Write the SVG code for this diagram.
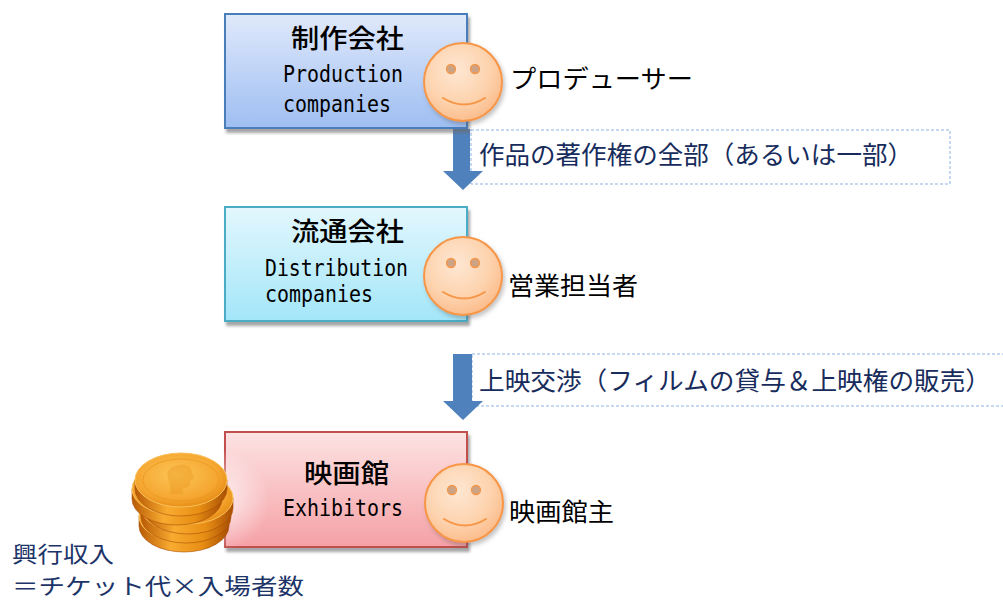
<svg xmlns="http://www.w3.org/2000/svg" width="1003" height="601" viewBox="0 0 1003 601">
  <defs>
    <linearGradient id="gradBlue" x1="0" y1="0" x2="0" y2="1">
      <stop offset="0" stop-color="#e0e9fb"/>
      <stop offset="1" stop-color="#9ebef2"/>
    </linearGradient>
    <linearGradient id="gradCyan" x1="0" y1="0" x2="0" y2="1">
      <stop offset="0" stop-color="#e3f7fd"/>
      <stop offset="1" stop-color="#a3e6f9"/>
    </linearGradient>
    <linearGradient id="gradPink" x1="0" y1="0" x2="0" y2="1">
      <stop offset="0" stop-color="#fde3e3"/>
      <stop offset="1" stop-color="#f5a1a6"/>
    </linearGradient>
    <radialGradient id="gradFace" cx="0.42" cy="0.35" r="0.7">
      <stop offset="0" stop-color="#fee7d3"/>
      <stop offset="0.6" stop-color="#fdd3ae"/>
      <stop offset="1" stop-color="#fbb987"/>
    </radialGradient>
    <linearGradient id="gradCoinSide" x1="0" y1="0" x2="1" y2="0">
      <stop offset="0" stop-color="#b85a06"/>
      <stop offset="0.35" stop-color="#f8ab30"/>
      <stop offset="0.7" stop-color="#e88e14"/>
      <stop offset="1" stop-color="#a84f04"/>
    </linearGradient>
    <radialGradient id="gradCoinFace" cx="0.45" cy="0.4" r="0.65">
      <stop offset="0" stop-color="#fcc556"/>
      <stop offset="0.7" stop-color="#f5a630"/>
      <stop offset="1" stop-color="#e3870f"/>
    </radialGradient>
    <radialGradient id="gradGlow" cx="0.5" cy="0.5" r="0.5">
      <stop offset="0" stop-color="#ffffff" stop-opacity="0.8"/>
      <stop offset="1" stop-color="#ffffff" stop-opacity="0"/>
    </radialGradient>
    <filter id="boxShadow" x="-10%" y="-10%" width="125%" height="130%">
      <feDropShadow dx="2" dy="4" stdDeviation="1.5" flood-color="#6b6b6b" flood-opacity="0.6"/>
    </filter>
    <filter id="faceShadow" x="-20%" y="-20%" width="150%" height="150%">
      <feDropShadow dx="2" dy="3" stdDeviation="2" flood-color="#555" flood-opacity="0.35"/>
    </filter>
    <g id="smiley">
      <circle cx="0" cy="0" r="39" fill="url(#gradFace)" stroke="#f79646" stroke-width="2" filter="url(#faceShadow)"/>
      <circle cx="-12" cy="-13" r="4.5" fill="#cda386" stroke="#f79646" stroke-width="1.3"/>
      <circle cx="12" cy="-13" r="4.5" fill="#cda386" stroke="#f79646" stroke-width="1.3"/>
      <path d="M -20 16 Q 1 29 22 16" fill="none" stroke="#f79646" stroke-width="2" stroke-linecap="round"/>
    </g>
  </defs>
  <style>
    .title { font-family: "Noto Sans CJK JP", "Noto Sans CJK SC", sans-serif; font-size: 26px; font-weight: 500; fill: #000; }
    .eng { font-family: "DejaVu Sans Mono", "Liberation Mono", monospace; font-size: 23px; fill: #000; }
    .role { font-family: "Noto Sans CJK JP", "Noto Sans CJK SC", sans-serif; font-size: 25px; fill: #000; }
    .flow { font-family: "Noto Sans CJK JP", "Noto Sans CJK SC", sans-serif; font-size: 25px; fill: #172c5c; }
    .revenue { font-family: "Noto Sans CJK JP", "Noto Sans CJK SC", sans-serif; font-size: 22px; fill: #1c3468; }
    .arrow { fill: #4f81bd; }
    .labelBox { fill: #ffffff; stroke: #8db3e2; stroke-width: 1; stroke-dasharray: 3 2; }
    .coinSide { fill: url(#gradCoinSide); stroke: #a94f05; stroke-width: 0.6; }
    .coinFace { fill: url(#gradCoinFace); stroke: #f9c15a; stroke-width: 1; }
  </style>

  <rect width="1003" height="601" fill="#ffffff"/>

  <!-- flow arrows and their labels -->
  <g id="connectors">
    <rect class="labelBox" x="471" y="130" width="479" height="54"/>
    <path class="arrow" d="M 453 129 L 470 129 L 470 171 L 483 171 L 463 190 L 443 171 L 453 171 Z"/>
    <text class="flow" x="479" y="164" textLength="434" lengthAdjust="spacingAndGlyphs">作品の著作権の全部（あるいは一部）</text>

    <rect class="labelBox" x="472" y="354" width="600" height="52"/>
    <path class="arrow" d="M 453 354 L 472 354 L 472 401 L 483 401 L 463 420 L 443 401 L 453 401 Z"/>
    <text class="flow" x="479" y="390" textLength="512" lengthAdjust="spacingAndGlyphs">上映交渉（フィルムの貸与＆上映権の販売）</text>
  </g>

  <!-- production companies -->
  <g id="node-production">
    <rect x="225" y="14" width="242" height="114" fill="url(#gradBlue)" stroke="#4a7ebb" stroke-width="2" filter="url(#boxShadow)"/>
    <text class="title" x="291" y="48" textLength="113" lengthAdjust="spacingAndGlyphs">制作会社</text>
    <text class="eng" x="283" y="82" textLength="120" lengthAdjust="spacingAndGlyphs">Production</text>
    <text class="eng" x="283" y="112" textLength="108" lengthAdjust="spacingAndGlyphs">companies</text>
    <use href="#smiley" x="463" y="82"/>
    <text class="role" x="510" y="88" textLength="183" lengthAdjust="spacingAndGlyphs">プロデューサー</text>
  </g>

  <!-- distribution companies -->
  <g id="node-distribution">
    <rect x="225" y="207" width="242" height="114" fill="url(#gradCyan)" stroke="#4bacc6" stroke-width="2" filter="url(#boxShadow)"/>
    <text class="title" x="291" y="241" textLength="113" lengthAdjust="spacingAndGlyphs">流通会社</text>
    <text class="eng" x="265" y="276" textLength="143" lengthAdjust="spacingAndGlyphs">Distribution</text>
    <text class="eng" x="265" y="302" textLength="108" lengthAdjust="spacingAndGlyphs">companies</text>
    <use href="#smiley" x="463" y="276"/>
    <text class="role" x="508" y="295" textLength="130" lengthAdjust="spacingAndGlyphs">営業担当者</text>
  </g>

  <!-- exhibitors -->
  <g id="node-exhibitors">
    <rect x="225" y="432" width="242" height="115" fill="url(#gradPink)" stroke="#c0504d" stroke-width="2" filter="url(#boxShadow)"/>
    <text class="title" x="304" y="483" textLength="85" lengthAdjust="spacingAndGlyphs">映画館</text>
    <text class="eng" x="283" y="516" textLength="120" lengthAdjust="spacingAndGlyphs">Exhibitors</text>
    <use href="#smiley" x="464" y="503"/>
    <text class="role" x="509" y="521" textLength="105" lengthAdjust="spacingAndGlyphs">映画館主</text>
  </g>

  <!-- box-office revenue: stack of coins and formula -->
  <g id="revenue">
    <ellipse cx="215" cy="500" rx="55" ry="52" fill="url(#gradGlow)"/>
    <!-- coins, bottom to top -->
    <path class="coinSide" d="M 139 516 L 139 526 A 45 26 0 0 0 229 526 L 229 516 Z"/>
    <ellipse class="coinFace" cx="184" cy="516" rx="45" ry="26"/>
    <path class="coinSide" d="M 141 507 L 141 517 A 45 26 0 0 0 231 517 L 231 507 Z"/>
    <ellipse class="coinFace" cx="186" cy="507" rx="45" ry="26"/>
    <path class="coinSide" d="M 143 498 L 143 508 A 45 26 0 0 0 233 508 L 233 498 Z"/>
    <ellipse class="coinFace" cx="188" cy="498" rx="45" ry="26"/>
    <path class="coinSide" d="M 132 489 L 132 499 A 45 26 0 0 0 222 499 L 222 489 Z"/>
    <ellipse class="coinFace" cx="177" cy="489" rx="45" ry="26"/>
    <path class="coinSide" d="M 135 480 L 135 489 A 46 27 0 0 0 227 489 L 227 480 Z"/>
    <ellipse class="coinFace" cx="181" cy="480" rx="46" ry="27"/>
    <ellipse cx="181" cy="480" rx="38" ry="21" fill="none" stroke="#e8911a" stroke-width="1" opacity="0.6"/>
    <!-- embossed profile -->
    <path d="M 176 466 C 184 462 193 466 192 474 C 196 477 193 480 190 481 C 191 486 186 489 182 488 L 183 494 L 170 494 C 172 489 169 484 168 478 C 166 471 170 467 176 466 Z" fill="#e8921a" opacity="0.35"/>
    <text class="revenue" x="12" y="562" textLength="102" lengthAdjust="spacingAndGlyphs">興行収入</text>
    <text class="revenue" x="12" y="594" textLength="292" lengthAdjust="spacingAndGlyphs">＝チケット代×入場者数</text>
  </g>
</svg>
